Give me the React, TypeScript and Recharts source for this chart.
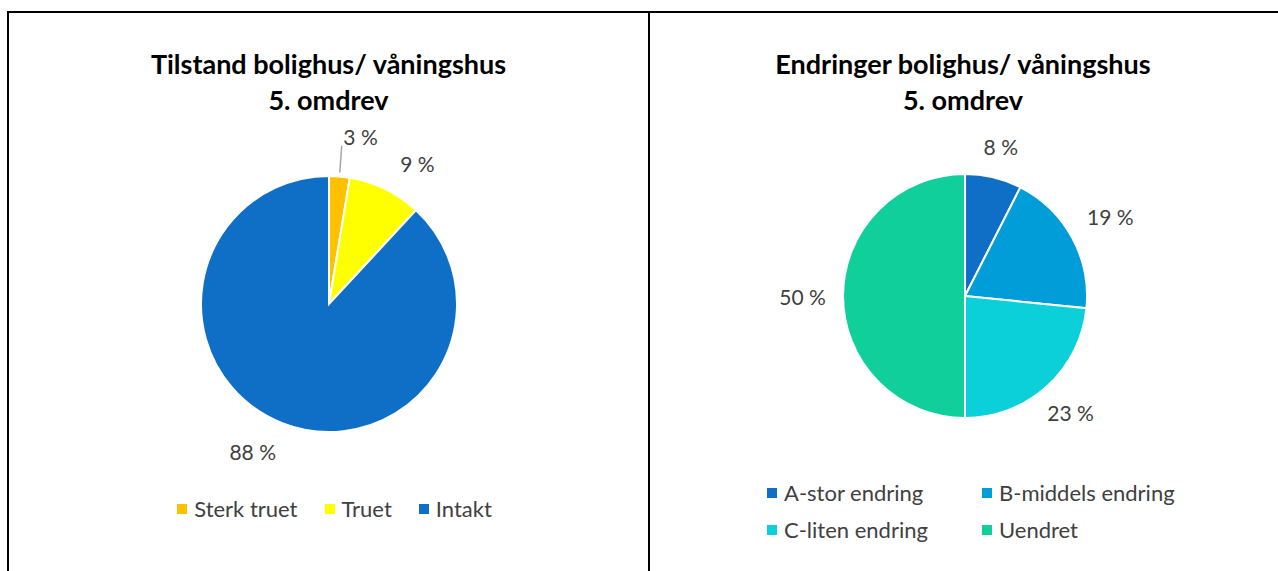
import React from 'react';
import { PieChart, Pie, Cell, Legend } from 'recharts';

// Tilstand (left chart)
const tilstandNames = ['Sterk truet', 'Truet', 'Intakt'];
const tilstandValues = [2.6, 9.3, 88.1];
const tilstandColors = ['#FFC000', '#FFFF00', '#0F6FC6'];

// Endringer (right chart)
const endringNames = ['A-stor endring', 'B-middels endring', 'C-liten endring', 'Uendret'];
const endringValues = [7.5, 19.1, 23.4, 50];
const endringColors = ['#0F6FC6', '#009DD9', '#0BD0D9', '#10CF9B'];

const tilstandData = tilstandNames.map((name, i) => ({ name, value: tilstandValues[i] }));
const endringData = endringNames.map((name, i) => ({ name, value: endringValues[i] }));

const FONT = 'Lato, "Open Sans", sans-serif';
const RADIAN = Math.PI / 180;
const NO_MARGIN = { top: 0, right: 0, bottom: 0, left: 0 };

// label box kept at a fixed gap from the pie edge (like Excel's best fit)
const makeLabel = (gap: number, turn: number) => (props: any) => {
  const { cx, cy, midAngle, outerRadius, value, percent } = props;
  const text = `${Math.round(value)} %`;
  const halfW = text.length * 5.6;
  const halfH = 13;
  const small = percent < 0.05;
  const ang = midAngle - turn;
  const c = Math.abs(Math.cos(ang * RADIAN));
  const s = Math.abs(Math.sin(ang * RADIAN));
  const ext = Math.min(c > 0.001 ? halfW / c : 1e9, s > 0.001 ? halfH / s : 1e9);
  const r = outerRadius + gap + ext + (small ? 6 : 0);
  const p = {
    x: cx + r * Math.cos(-ang * RADIAN),
    y: cy + r * Math.sin(-ang * RADIAN),
  };
  const a = {
    x: cx + (outerRadius + 4) * Math.cos(-midAngle * RADIAN),
    y: cy + (outerRadius + 4) * Math.sin(-midAngle * RADIAN),
  };
  return (
    <g>
      {small && (
        <line x1={a.x} y1={a.y} x2={p.x - halfW - 2} y2={p.y + 9} stroke="#A6A6A6" strokeWidth={1.5} />
      )}
      <text
        x={p.x}
        y={p.y}
        textAnchor="middle"
        dominantBaseline="central"
        fill="#404040"
        fontSize={21}
        fontFamily={FONT}
      >
        {text}
      </text>
    </g>
  );
};

const Swatch = ({ color }: { color: string }) => (
  <span style={{ display: 'inline-block', width: 10, height: 10, background: color, marginRight: 7 }} />
);

const titleStyle: React.CSSProperties = {
  position: 'absolute',
  left: 0,
  width: '100%',
  textAlign: 'center',
  fontFamily: FONT,
  fontWeight: 700,
  fontSize: 27,
  lineHeight: '36px',
  color: '#000',
  zIndex: 2,
};

const App = () => (
  <div
    style={{
      position: 'absolute',
      left: 7,
      top: 11,
      width: 1271,
      height: 560,
      borderTop: '2px solid #000',
      borderLeft: '2px solid #000',
      display: 'flex',
      background: '#fff',
      boxSizing: 'border-box',
    }}
  >
    <div style={{ position: 'relative', width: 639, height: 558 }}>
      <div style={{ ...titleStyle, top: 33 }}>
        Tilstand bolighus/ våningshus
        <br />
        5. omdrev
      </div>
      <PieChart width={639} height={558} margin={NO_MARGIN}>
        <Pie
          data={tilstandData}
          dataKey="value"
          nameKey="name"
          cx={320}
          cy={291}
          outerRadius={128}
          startAngle={90}
          endAngle={-270}
          stroke="#fff"
          strokeWidth={2}
          label={makeLabel(23, 6)}
          labelLine={false}
          isAnimationActive={false}
        >
          {tilstandData.map((d, i) => (
            <Cell key={d.name} fill={tilstandColors[i]} />
          ))}
        </Pie>
        <Legend
          verticalAlign="bottom"
          wrapperStyle={{ top: 482, left: 6, bottom: 'auto', width: 639 }}
          content={() => (
            <div
              style={{
                display: 'flex',
                justifyContent: 'center',
                fontFamily: FONT,
                fontSize: 22,
                color: '#404040',
                gap: 27,
              }}
            >
              {tilstandNames.map((n, i) => (
                <div key={n} style={{ display: 'flex', alignItems: 'center' }}>
                  <Swatch color={tilstandColors[i]} />
                  {n}
                </div>
              ))}
            </div>
          )}
        />
      </PieChart>
    </div>
    <div style={{ width: 2, height: 558, background: '#000' }} />
    <div style={{ position: 'relative', width: 628, height: 558 }}>
      <div style={{ ...titleStyle, top: 33, left: -1 }}>
        Endringer bolighus/ våningshus
        <br />
        5. omdrev
      </div>
      <PieChart width={628} height={558} margin={NO_MARGIN}>
        <Pie
          data={endringData}
          dataKey="value"
          nameKey="name"
          cx={315}
          cy={283}
          outerRadius={122}
          startAngle={90}
          endAngle={-270}
          stroke="#fff"
          strokeWidth={2}
          label={makeLabel(18, 0)}
          labelLine={false}
          isAnimationActive={false}
        >
          {endringData.map((d, i) => (
            <Cell key={d.name} fill={endringColors[i]} />
          ))}
        </Pie>
        <Legend
          verticalAlign="bottom"
          wrapperStyle={{ top: 467, left: 117, bottom: 'auto', width: 460 }}
          content={() => (
            <div
              style={{
                display: 'grid',
                gridTemplateColumns: '215px 215px',
                rowGap: 12,
                fontFamily: FONT,
                fontSize: 22,
                color: '#404040',
              }}
            >
              {endringNames.map((n, i) => (
                <div key={n} style={{ display: 'flex', alignItems: 'center', height: 25 }}>
                  <Swatch color={endringColors[i]} />
                  {n}
                </div>
              ))}
            </div>
          )}
        />
      </PieChart>
    </div>
  </div>
);

export default App;
